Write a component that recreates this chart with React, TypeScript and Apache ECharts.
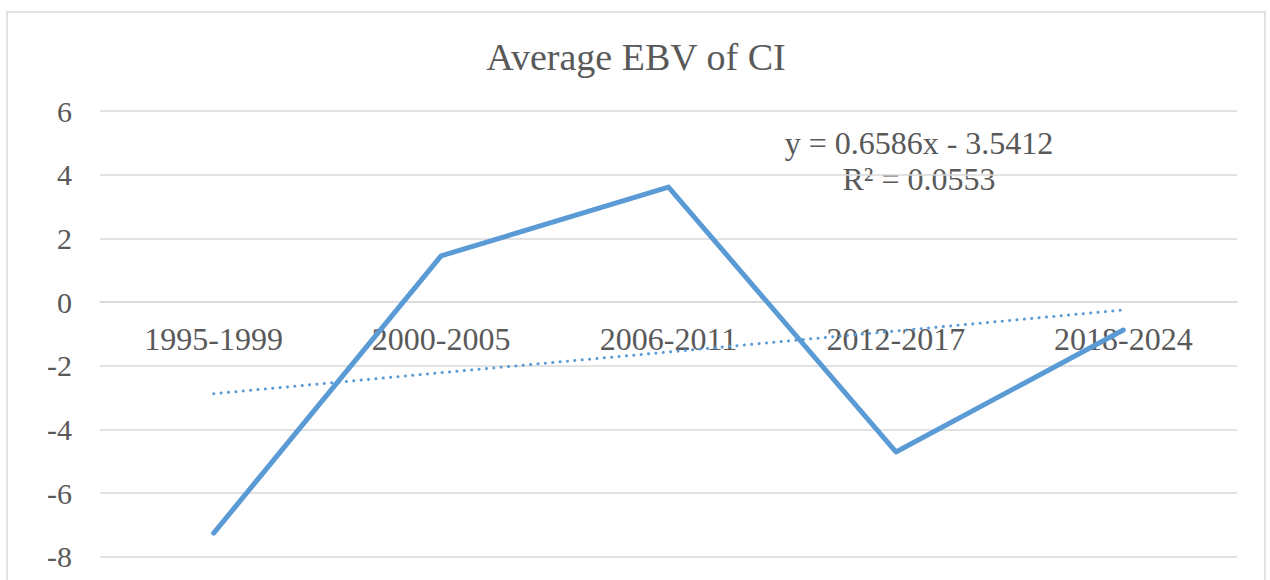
import React, { useEffect, useRef } from "react";
import * as echarts from "echarts";

const categories = ["1995-1999", "2000-2005", "2006-2011", "2012-2017", "2018-2024"];
const ebvValues = [-7.26, 1.45, 3.61, -4.71, -0.88];
const trendValues = [-2.88, -2.22, -1.57, -0.91, -0.25];
const titleText = "Average EBV of CI";
const equationText = "y = 0.6586x - 3.5412";
const r2Text = "R² = 0.0553";

const FONT = "'Liberation Serif', 'Times New Roman', serif";
const GREY = "#595959";
const BLUE = "#5b9bd5";

export default function App() {
  const ref = useRef<HTMLDivElement>(null);
  useEffect(() => {
    if (!ref.current) return;
    const chart = echarts.init(ref.current, undefined, { renderer: "svg" });
    chart.setOption({
      animation: false,
      backgroundColor: "#ffffff",
      grid: {
        left: 100,
        right: 33,
        top: 111,
        bottom: 23.3,
        containLabel: false,
        outerBoundsMode: "none",
      },
      xAxis: {
        type: "category",
        data: categories,
        boundaryGap: true,
        offset: -254.7,
        axisLine: { show: true, onZero: false, lineStyle: { color: "#d9d9d9", width: 1.5 } },
        axisTick: { show: false },
        axisLabel: { color: GREY, fontFamily: FONT, fontSize: 32, margin: 21, interval: 0 },
        splitLine: { show: false },
      },
      yAxis: {
        type: "value",
        min: -8,
        max: 6,
        interval: 2,
        axisLine: { show: false },
        axisTick: { show: false },
        axisLabel: { color: GREY, fontFamily: FONT, fontSize: 30, margin: 28 },
        splitLine: { lineStyle: { color: "#d9d9d9", width: 1.5 } },
      },
      series: [
        {
          type: "line",
          data: ebvValues,
          symbol: "none",
          lineStyle: { color: BLUE, width: 5, cap: "round", join: "round" },
          z: 3,
        },
        {
          type: "line",
          data: trendValues,
          symbol: "none",
          lineStyle: { color: BLUE, width: 3, type: [0.1, 7.3], cap: "round" },
          z: 2,
        },
      ],
      graphic: [
        {
          type: "rect",
          shape: { x: 7, y: 12, width: 1258, height: 600 },
          style: { fill: "none", stroke: "#d9d9d9", lineWidth: 1.5 },
          silent: true,
        },
        {
          type: "text",
          x: 636,
          y: 57,
          style: {
            text: titleText,
            fill: GREY,
            font: `38px ${FONT}`,
            textAlign: "center",
            textVerticalAlign: "middle",
          },
        },
        {
          type: "text",
          x: 919,
          y: 143,
          style: {
            text: equationText,
            fill: GREY,
            font: `32px ${FONT}`,
            textAlign: "center",
            textVerticalAlign: "middle",
          },
        },
        {
          type: "text",
          x: 919,
          y: 179,
          style: {
            text: r2Text,
            fill: GREY,
            font: `32px ${FONT}`,
            textAlign: "center",
            textVerticalAlign: "middle",
          },
        },
      ],
    });
    return () => chart.dispose();
  }, []);
  return (
    <div
      ref={ref}
      style={{ position: "absolute", left: 0, top: 0, width: 1270, height: 580 }}
    />
  );
}
